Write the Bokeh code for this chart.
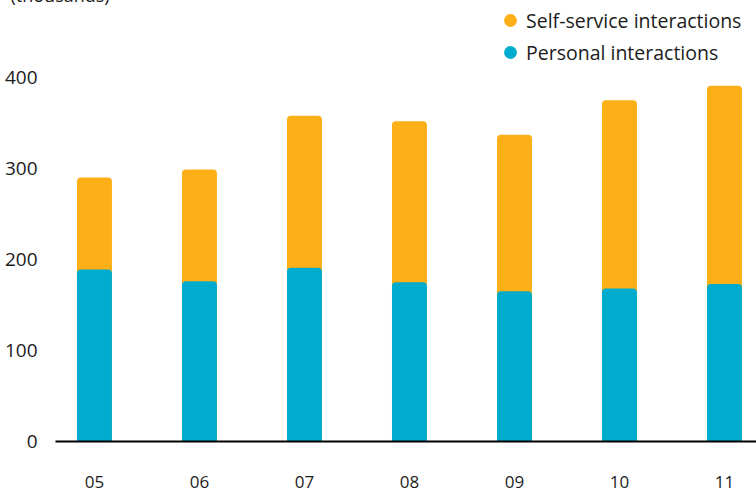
from bokeh.plotting import figure
from bokeh.models import Range1d, FixedTicker, Legend, LegendItem, ColumnDataSource
from bokeh.embed import file_html
from bokeh.resources import INLINE

years = ["05", "06", "07", "08", "09", "10", "11"]
personal = [189, 176, 191, 175, 165, 168, 173]
total = [290, 299, 358, 352, 337, 375, 391]
self_service = [t - p for t, p in zip(total, personal)]
y_ticks = [0, 100, 200, 300, 400]

ORANGE = "#FCAF17"
BLUE = "#00ACCD"
TEXT = "#1c1c1c"
FONT = "Open Sans"

xs = list(range(len(years)))
src = ColumnDataSource(dict(x=xs, personal=personal, total=total, self_service=self_service))

p = figure(width=756, height=517, output_backend="svg", toolbar_location=None,
           x_range=Range1d(-0.371, 6.305), y_range=Range1d(0, 478),
           min_border_left=55, min_border_right=0, min_border_top=30, min_border_bottom=52,
           title="(thousands)", styles={"margin-top": "-24px"})
p.title.align = "left"
p.title.offset = -45
p.title.standoff = 0
p.title.text_font = FONT
p.title.text_font_size = "18px"
p.title.text_font_style = "normal"
p.title.text_color = TEXT
p.outline_line_color = None
p.xgrid.visible = False
p.ygrid.visible = False
p.background_fill_color = "white"

r_self = p.vbar(x="x", bottom=0, top="total", width=0.333, source=src,
                fill_color=ORANGE, line_color=None, border_radius=(4, 4, 0, 0))
r_pers = p.vbar(x="x", bottom=0, top="personal", width=0.333, source=src,
                fill_color=BLUE, line_color=None, border_radius=(4, 4, 0, 0))

# legend dummies (circles), not drawn in the frame
nan = float("nan")
d_self = p.scatter(x=[nan], y=[nan], marker="circle", size=13, fill_color=ORANGE, line_color=None)
d_pers = p.scatter(x=[nan], y=[nan], marker="circle", size=13, fill_color=BLUE, line_color=None)
legend = Legend(items=[LegendItem(label="Self-service interactions", renderers=[d_self]),
                       LegendItem(label="Personal interactions", renderers=[d_pers])],
                location=(439, 373), padding=0, margin=0, border_line_color=None,
                background_fill_alpha=0, glyph_width=32, glyph_height=32,
                label_standoff=-4, spacing=0, label_height=20,
                label_text_font=FONT, label_text_font_size="19.5px", label_text_color=TEXT)
p.add_layout(legend)

# x axis
p.xaxis.ticker = FixedTicker(ticks=xs)
p.xaxis.major_label_overrides = {i: y for i, y in enumerate(years)}
p.xaxis.axis_line_color = "black"
p.xaxis.axis_line_width = 2
p.xaxis.major_tick_line_color = None
p.xaxis.minor_tick_line_color = None
p.xaxis.major_label_standoff = 28
p.xaxis.major_label_text_font = FONT
p.xaxis.major_label_text_font_size = "17px"
p.xaxis.major_label_text_color = TEXT

# y axis
p.yaxis.ticker = FixedTicker(ticks=y_ticks)
p.yaxis.axis_line_color = None
p.yaxis.major_tick_line_color = None
p.yaxis.minor_tick_line_color = None
p.yaxis.major_label_standoff = 12
p.yaxis.major_label_text_font = FONT
p.yaxis.major_label_text_font_size = "19px"
p.yaxis.major_label_text_color = TEXT

open("out.html", "w").write(file_html(p, INLINE))
